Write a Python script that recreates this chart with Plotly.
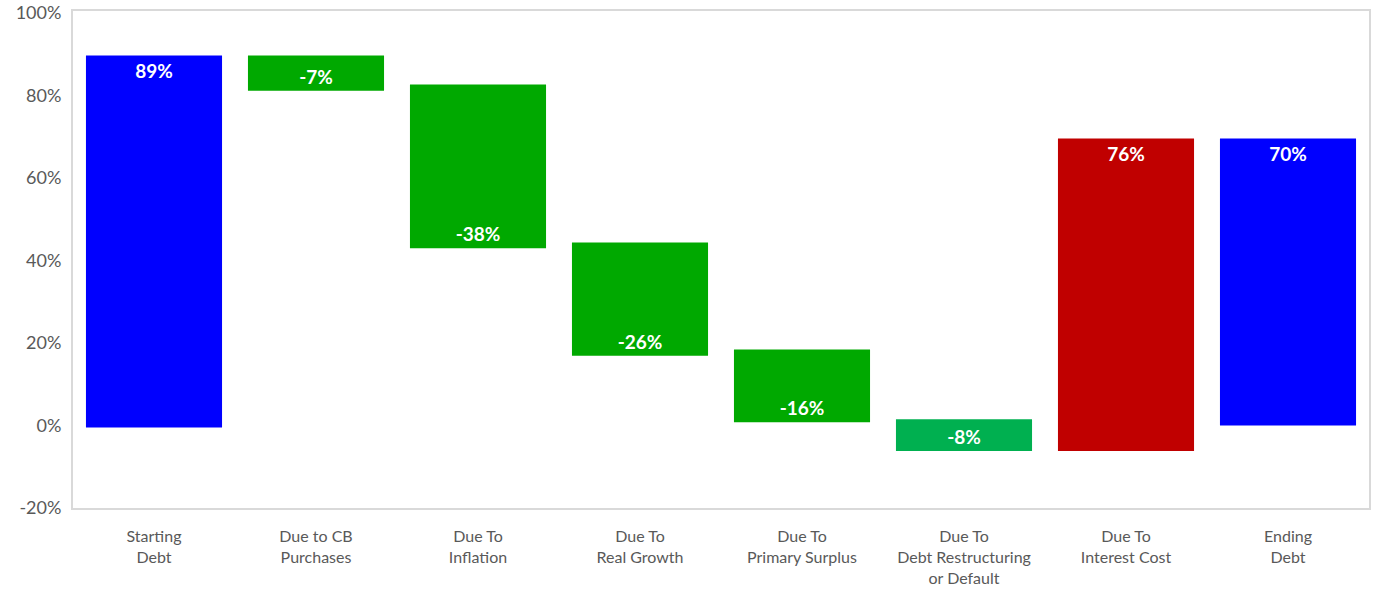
import plotly.graph_objects as go

categories = ["Starting<br>Debt", "Due to CB<br>Purchases", "Due To<br>Inflation", "Due To<br>Real Growth",
              "Due To<br>Primary Surplus", "Due To<br>Debt Restructuring<br>or Default", "Due To<br>Interest Cost",
              "Ending<br>Debt"]
labels = ["89%", "-7%", "-38%", "-26%", "-16%", "-8%", "76%", "70%"]
bar_start = [-0.5, 89.6, 82.6, 44.3, 18.4, 1.5, -6.2, 0.0]
bar_end = [89.6, 81.1, 42.9, 16.9, 0.8, -6.2, 69.5, 69.5]
colors = ["#0000FF", "#00A900", "#00A900", "#00A900", "#00A900", "#00B050", "#C00000", "#0000FF"]
y_tickvals = [-20, 0, 20, 40, 60, 80, 100]
y_ticktext = ["-20%", "0%", "20%", "40%", "60%", "80%", "100%"]

heights = [e - s for s, e in zip(bar_start, bar_end)]

fig = go.Figure(go.Bar(
    x=categories, y=heights, base=bar_start,
    marker=dict(color=colors, line=dict(width=0)),
    text=labels, textposition="inside", insidetextanchor="end",
    textangle=0,
    textfont=dict(family="Lato, Carlito, Calibri, sans-serif", size=19, color="white", weight="bold"),
    width=0.84, hoverinfo="skip",
))

fig.update_layout(
    width=1374, height=590,
    margin=dict(l=73, r=5, t=11, b=82),
    plot_bgcolor="white", paper_bgcolor="white",
    showlegend=False,
    font=dict(family="Lato, Carlito, Calibri, sans-serif", color="#595959"),
    uniformtext=dict(mode=False),
)
fig.update_xaxes(
    automargin=False,
    showline=True, mirror=True, linecolor="#D9D9D9", linewidth=2,
    showgrid=False, ticks="", tickfont=dict(size=16, color="#595959"),
    ticklabelstandoff=13,
)
fig.update_yaxes(
    automargin=False,
    range=[-20, 100.4], tickvals=y_tickvals, ticktext=y_ticktext,
    showline=True, mirror=True, linecolor="#D9D9D9", linewidth=2,
    showgrid=False, zeroline=False, ticks="",
    tickfont=dict(size=18, color="#595959"), ticklabelstandoff=6,
    ticklabeloverflow="allow",
)

fig.write_html("out.html", config={"displayModeBar": False},
               post_script="document.body.style.margin='0';document.body.style.padding='0';")
